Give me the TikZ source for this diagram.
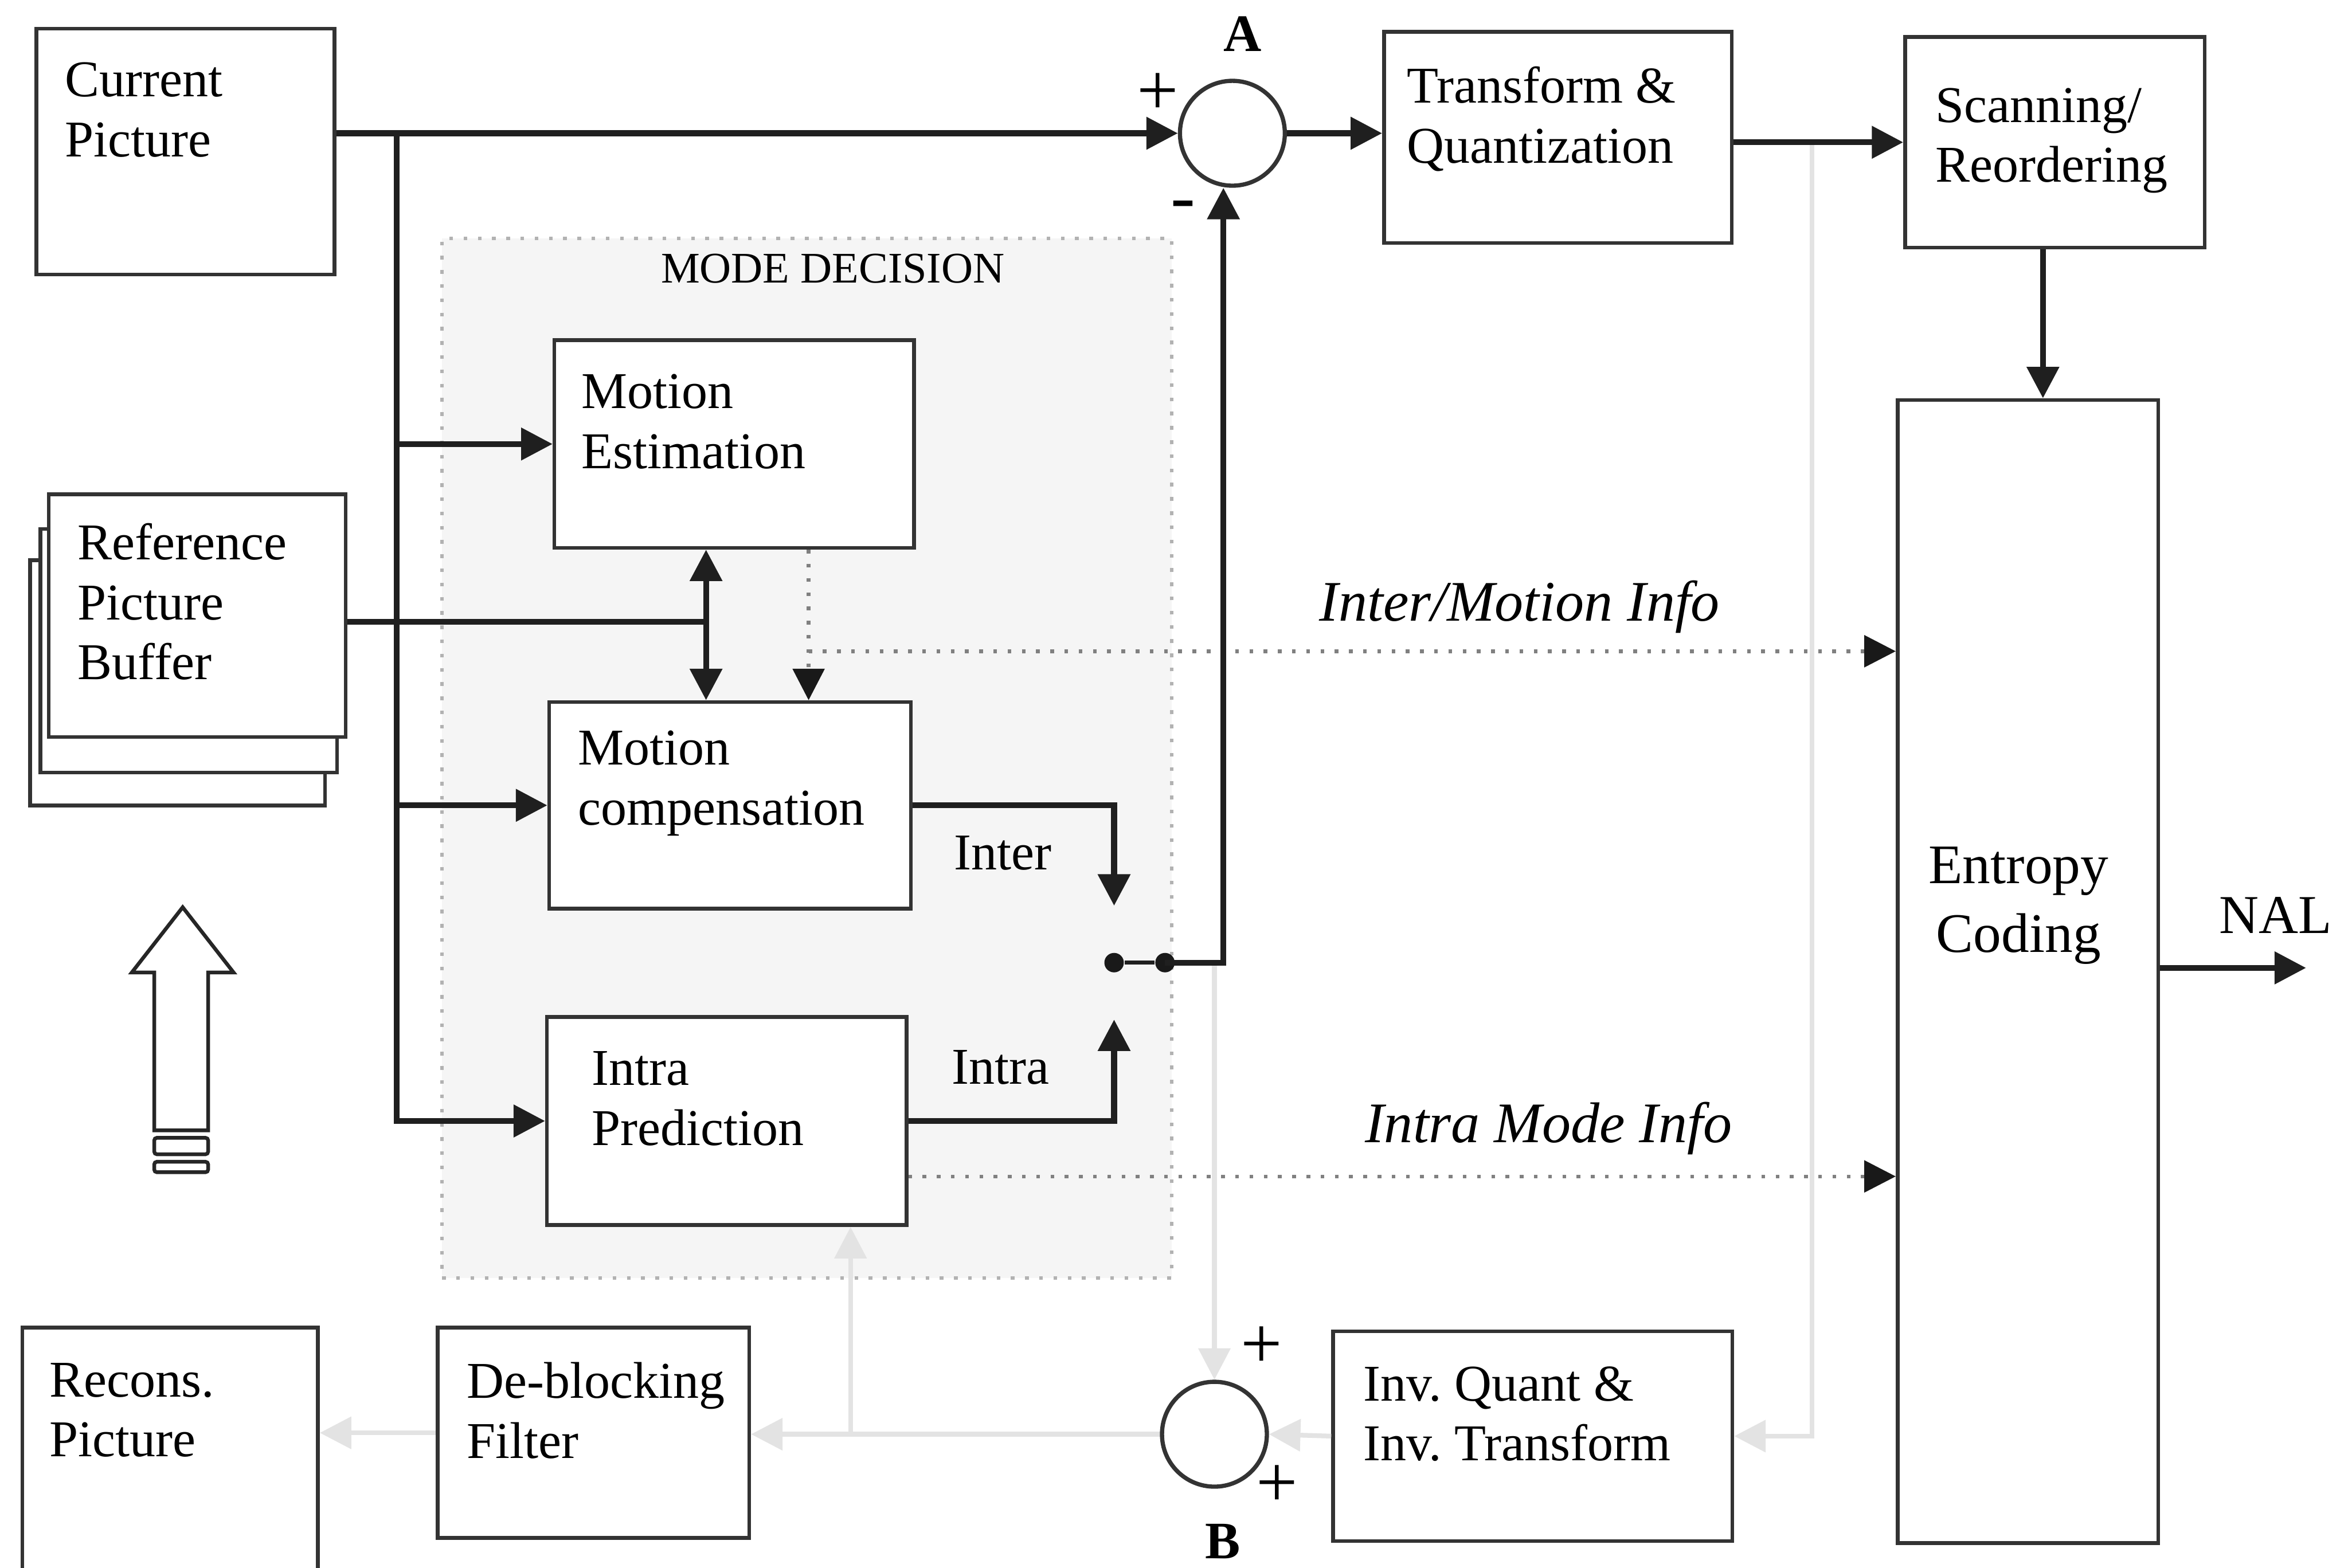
\documentclass[tikz,border=0pt]{standalone}
\usepackage{fontspec}
\setmainfont{Liberation Serif}
\usetikzlibrary{arrows.meta}
\frenchspacing
\begin{document}
\begin{tikzpicture}[x=0.01cm,y=-0.01cm,
  box/.style={draw=black!80, line width=0.7pt, rectangle, inner sep=0pt, anchor=north west},
  txt/.style={font=\fontsize{9.8}{11.4}\selectfont, align=left, anchor=base west, inner sep=0pt},
  thk/.style={line width=1.1pt, draw=black!88},
  arr/.style={-{Triangle[length=0.21cm,width=0.21cm]}},
  dotl/.style={dotted, line width=0.7pt, draw=black!50, -{Triangle[length=0.21cm,width=0.21cm,color=black!90]}},
  faint/.style={line width=0.9pt, draw=black!11, -{Triangle[length=0.21cm,width=0.21cm,color=black!11]}},
  sgn/.style={font=\fontsize{14}{14}\selectfont, inner sep=0pt},
  dotnode/.style={circle, fill=black!90, inner sep=0pt, minimum size=0.13cm},
]
\clip (0,0) rectangle (1568,1047);
\fill[white] (0,0) rectangle (1568,1047);

% mode decision region
\node[draw=black!30, dotted, fill=black!4, line width=0.7pt, rectangle, inner sep=0pt,
      anchor=north west, minimum width=4.87cm, minimum height=6.94cm] (mode) at (294,158) {};
\node[font=\fontsize{8.3}{10}\selectfont, anchor=base west, inner sep=0pt] (modeT) at (440.7,189) {MODE DECISION};

% boxes
\node[box, minimum width=1.99cm, minimum height=1.64cm] (cur) at (23,18) {};
\node[box, fill=white, minimum width=1.97cm, minimum height=1.637cm] (ref3) at (18.8,373) {};
\node[box, fill=white, minimum width=1.98cm, minimum height=1.626cm] (ref2) at (25.7,352) {};
\node[box, fill=white, minimum width=1.98cm, minimum height=1.62cm] (ref) at (31.4,329) {};
\node[box, fill=white, minimum width=2.40cm, minimum height=1.386cm] (ME) at (369,226) {};
\node[box, fill=white, minimum width=2.415cm, minimum height=1.379cm] (MC) at (365.5,467.7) {};
\node[box, fill=white, minimum width=2.40cm, minimum height=1.39cm] (IP) at (364,678) {};
\node[box, minimum width=2.32cm, minimum height=1.41cm] (TQ) at (923,20) {};
\node[box, minimum width=2.00cm, minimum height=1.405cm] (SR) at (1271,23.5) {};
\node[box, minimum width=1.74cm, minimum height=7.63cm] (EC) at (1266,266) {};
\node[box, minimum width=2.665cm, minimum height=1.40cm] (IQ) at (889,888) {};
\node[box, minimum width=2.08cm, minimum height=1.404cm] (DB) at (291,885.6) {};
\node[box, minimum width=1.973cm, minimum height=1.80cm] (RP) at (13.7,885.6) {};

\node[circle, draw=black!80, line width=0.8pt, minimum size=0.70cm, inner sep=0pt] (A) at (823,89) {};
\node[circle, draw=black!80, line width=0.8pt, minimum size=0.70cm, inner sep=0pt] (B) at (811,958) {};

% texts (anchor = baseline of last line)
\node[txt] (curT) at (42.7,104.6) {Current\\Picture};
\node[txt] (refT) at (51.3,454) {Reference\\Picture\\Buffer};
\node[txt] (MET) at (387.8,312.8) {Motion\\Estimation};
\node[txt] (MCT) at (385.3,551) {Motion\\compensation};
\node[txt] (IPT) at (394.6,765) {Intra\\Prediction};
\node[txt] (TQT) at (938.8,108.9) {Transform \&\\Quantization};
\node[txt] (SRT) at (1292,121.7) {Scanning/\\Reordering};
\node[font=\fontsize{10.6}{13.1}\selectfont, align=center, anchor=base, inner sep=0pt] (ECT) at (1348,636) {Entropy\\Coding};
\node[font=\fontsize{10.4}{12}\selectfont, anchor=base west, inner sep=0pt] (NALT) at (1481.5,623.5) {NAL};
\node[txt] (IQT) at (909.8,975.7) {Inv. Quant \&\\Inv. Transform};
\node[txt] (DBT) at (311,973.9) {De-blocking\\Filter};
\node[txt] (RPT) at (32.5,973) {Recons.\\Picture};
\node[txt] (interT) at (636.5,581) {Inter};
\node[txt] (intraT) at (634.8,724) {Intra};
\node[font=\itshape\fontsize{10.9}{12}\selectfont, anchor=base west, inner sep=0pt] (imT) at (880.5,414.8) {Inter/Motion Info};
\node[font=\itshape\fontsize{10.9}{12}\selectfont, anchor=base west, inner sep=0pt] (ipT) at (911,763) {Intra Mode Info};
\node[font=\bfseries\fontsize{10}{12}\selectfont, anchor=base, inner sep=0pt] (AT) at (830,34.2) {A};
\node[font=\bfseries\fontsize{10}{12}\selectfont, anchor=base, inner sep=0pt] (BT) at (816.6,1041) {B};
\node[sgn] (pA) at (773,63) {+};
\node[sgn] (mA) at (790,141) {-};
\node[sgn] (pB1) at (842.6,900) {+};
\node[sgn] (pB2) at (853,992.7) {+};

% faint feedback loop
\coordinate (fb) at (1210,93);
\coordinate (br) at (568,958);
\node[dotnode] (dL) at (744,643) {};
\node[dotnode] (dR) at (778,643) {};
\draw[faint] (fb) |- (IQ.east);
\draw[faint] (IQ.west) -- (B.east);
\draw[faint, -] (B.west) -- (br);
\draw[faint] (br) -- (B.west -| DB.east);
\draw[faint] (br) -- (br |- IP.south);
\draw[faint] (DB.west) -- (DB.west -| RP.east);
\draw[faint] (B.north |- dR) -- (B.north);

% main signal path
\coordinate (busTop) at (265,89);
\draw[thk, arr] (cur.east |- A.west) -- (A.west);
\draw[thk, arr] (busTop) |- (IP.west);
\draw[thk, arr] (busTop |- ME.west) -- (ME.west);
\draw[thk, arr] (busTop |- MC.west) -- (MC.west);
\draw[thk, arr] (A.east) -- (A.east -| TQ.west);
\draw[thk, arr] (TQ.east |- SR.west) -- (SR.west);
\draw[thk, arr] ([xshift=-0.08cm]SR.south) -- ([xshift=-0.08cm]SR.south |- EC.north);
\coordinate (nal) at (1540,646.5);
\draw[thk, arr] (nal -| EC.east) -- (nal);

% reference buffer
\coordinate (rj) at (471.5,415.5);
\draw[thk] (rj -| ref.east) -- (rj);
\draw[thk, {Triangle[length=0.21cm,width=0.21cm]}-{Triangle[length=0.21cm,width=0.21cm]}] (ME.south -| rj) -- (MC.north -| rj);

% dotted info lines
\coordinate (dj) at (540,435);
\draw[dotl] (ME.south -| dj) -- (MC.north -| dj);
\draw[dotl] (dj) -- (dj -| EC.west);
\draw[dotl] ([yshift=-0.37cm]IP.east) -- ([yshift=-0.37cm]IP.east -| EC.west);

% switch
\draw[thk, arr] (MC.east) -| ([yshift=0.38cm]dL.center);
\draw[thk, arr] (IP.east) -| ([yshift=-0.38cm]dL.center);
\draw[line width=0.8pt, draw=black!88] (dL) -- (dR);
\draw[thk, arr] (dR.center) -| ([xshift=-0.06cm]A.south);

% hollow arrow
\draw[line width=0.7pt, draw=black!85, fill=white, line join=miter]
  (122,606) -- (156,649.6) -- (139,649.6) -- (139,755) -- (103,755) -- (103,649.6) -- (88,649.6) -- cycle;
\draw[line width=0.7pt, draw=black!85, rounded corners=0.5pt] (103,760) rectangle (139,771);
\draw[line width=0.7pt, draw=black!85, rounded corners=0.5pt] (103,776) rectangle (139,783);
\end{tikzpicture}
\end{document}
